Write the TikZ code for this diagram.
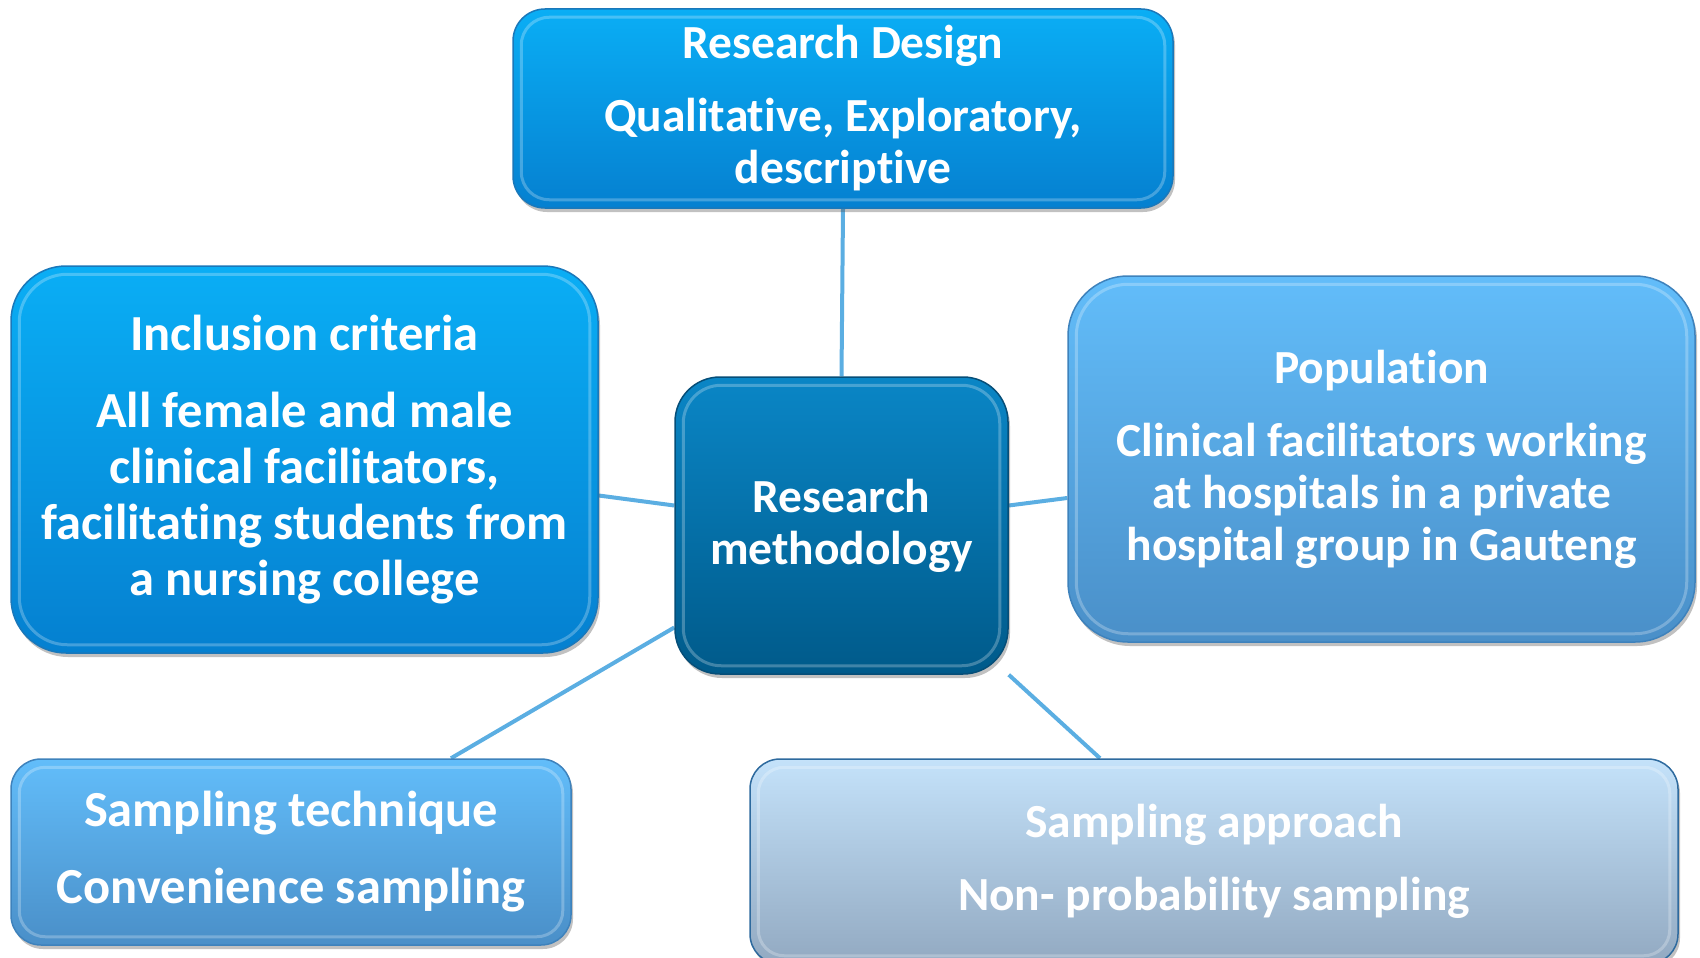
\documentclass[tikz,border=0pt]{standalone}
\usepackage{fontspec}
\setmainfont{Carlito}[RawFeature={-liga}]
\usetikzlibrary{shadows,backgrounds}
\definecolor{dtop}{HTML}{0AAEF5}
\definecolor{dbot}{HTML}{0580D0}
\definecolor{dbrd}{HTML}{1A78BA}
\definecolor{ctop}{HTML}{0A86C6}
\definecolor{cbot}{HTML}{005A8A}
\definecolor{cbrd}{HTML}{064E78}
\definecolor{ptop}{HTML}{62BDFA}
\definecolor{pbot}{HTML}{4A8FC8}
\definecolor{pbrd}{HTML}{3E82BC}
\definecolor{atop}{HTML}{C4E2FA}
\definecolor{abot}{HTML}{92A9C1}
\definecolor{abrd}{HTML}{2E6A9E}
\definecolor{conn}{HTML}{5BAEE2}
\tikzset{
  box/.style={rounded corners=#1, line width=1.5pt, inner sep=0pt, text=white, align=center,
    drop shadow={shadow xshift=2pt, shadow yshift=-4pt, opacity=0.35, fill=black!70},
    font=\fontsize{47.5}{52}\selectfont\bfseries},
  bluebox/.style={box=#1, draw=dbrd, top color=dtop, bottom color=dbot},
  centerbox/.style={box=#1, draw=cbrd, top color=ctop, bottom color=cbot},
  lightbox/.style={box=#1, draw=pbrd, top color=ptop, bottom color=pbot},
  palebox/.style={box=#1, draw=abrd, top color=atop, bottom color=abot},
  connector/.style={draw=conn, line width=4pt},
  glint/.style={draw=white, opacity=0.25, line width=3pt, rounded corners=#1}
}
\begin{document}
\begin{tikzpicture}[x=1pt,y=-1pt]
\useasboundingbox (0,0) rectangle (1700,958);

\node[bluebox=32pt, minimum width=660pt, minimum height=199pt] (design) at (843,108.5)
  {Research Design\\[21pt]Qualitative, Exploratory,\\descriptive};
\node[bluebox=55pt, minimum width=587pt, minimum height=387pt, font=\fontsize{50.5}{56}\selectfont\bfseries] (incl) at (304.5,459.5)
  {Inclusion criteria\\[21pt]All female and male\\clinical facilitators,\\facilitating students from\\a nursing college};
\node[centerbox=45pt, minimum width=333pt, minimum height=297pt] (ctr) at (841.5,525.5)
  {Research\\methodology};
\node[lightbox=60pt, minimum width=627pt, minimum height=366pt] (pop) at (1381.5,459)
  {Population\\[21pt]Clinical facilitators working\\at hospitals in a private\\hospital group in Gauteng};
\node[lightbox=30pt, minimum width=560pt, minimum height=186pt, font=\fontsize{50.5}{56}\selectfont\bfseries] (tech) at (291,852)
  {Sampling technique\\[21pt]Convenience sampling};
\node[palebox=30pt, minimum width=928pt, minimum height=205pt] (appr) at (1214,861.5)
  {Sampling approach\\[21pt]Non- probability sampling};

\foreach \n/\r in {design/28pt, incl/48pt, ctr/38pt, pop/52pt, tech/26pt, appr/26pt}{
  \draw[glint=\r] ([xshift=9pt,yshift=-9pt]\n.north west) rectangle ([xshift=-9pt,yshift=9pt]\n.south east);
}

\begin{scope}[on background layer]
\draw[connector] (design.south) -- (ctr.north);
\draw[connector] ([yshift=-36pt]incl.east) -- ([yshift=20pt]ctr.west);
\draw[connector] ([yshift=-39pt]pop.west) -- ([yshift=20pt]ctr.east);
\draw[connector] ([xshift=160pt]tech.north) -- ([yshift=-102pt]ctr.west);
\draw[connector] ([xshift=-114pt]appr.north) -- (ctr.south east);
\end{scope}
\end{tikzpicture}
\end{document}
